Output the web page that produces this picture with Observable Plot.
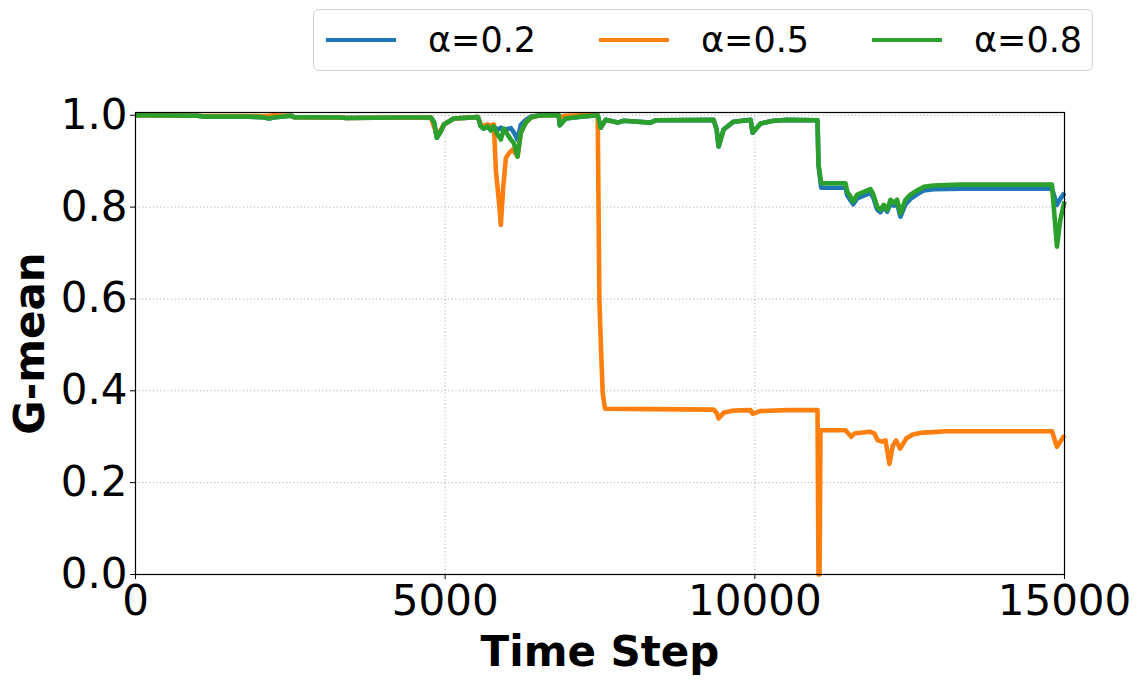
<!DOCTYPE html>
<html>
<head>
<meta charset="utf-8">
<script src="https://cdn.jsdelivr.net/npm/d3@7"></script>
<script src="https://cdn.jsdelivr.net/npm/@observablehq/plot@0.6"></script>
<style>
  html, body { margin: 0; padding: 0; background: white; }
  #wrap { width: 1139px; height: 683px; position: relative; font-family: "DejaVu Sans", sans-serif; }
  #legend-row { height: 80px; position: relative; }
  #legend { position: absolute; left: 313px; top: 9px; width: 778px; height: 60px; border: 1.5px solid #d0d0d0; border-radius: 6px; background: white; }
  .entry { position: absolute; top: 0; height: 60px; display: flex; align-items: center; }
  .swatch { width: 70px; height: 4px; margin-right: 32px; }
  .lab { font-size: 35px; color: black; line-height: 1; }
</style>
</head>
<body>
<div id="wrap">
  <div id="legend-row"><div id="legend"></div></div>
  <div id="chart"></div>
</div>
<script>
// ---------- data ----------
const seriesNames = ["α=0.2", "α=0.5", "α=0.8"];
const seriesColors = ["#1f77b4", "#ff7f0e", "#2ca02c"];
const xTicks = [0, 5000, 10000, 15000];
const yTicks = [0.0, 0.2, 0.4, 0.6, 0.8, 1.0];

const steps_a02 = [0,1000,1110,1820,2030,2160,2220,2510,2560,3320,3400,4290,4770,4820,4866,4930,4980,5140,5528,5544,5576,5624,5684,5737,5786,5846,5899,5947,6007,6060,6108,6168,6221,6302,6383,6491,6652,6834,6850,6947,7189,7463,7511,7592,7786,7883,8318,8399,9335,9383,9415,9496,9657,9932,9964,10093,10302,10528,11012,11028,11072,11464,11491,11544,11588,11652,11867,11915,11975,12028,12082,12137,12190,12243,12298,12351,12432,12512,12620,12727,12888,13319,14798,14878,14932,15000];
const gmean_a02 = [1.0,0.999,0.997,0.997,0.996,0.993,0.995,0.999,0.996,0.995,0.994,0.995,0.995,0.985,0.951,0.965,0.98,0.993,0.996,0.99,0.976,0.971,0.976,0.967,0.976,0.968,0.973,0.965,0.970,0.972,0.963,0.947,0.979,0.990,0.997,0.999,1.0,1.0,0.978,0.993,0.997,1.0,0.973,0.990,0.984,0.988,0.984,0.989,0.990,0.969,0.932,0.969,0.986,0.990,0.962,0.982,0.988,0.990,0.989,0.892,0.842,0.842,0.826,0.815,0.806,0.819,0.831,0.820,0.795,0.789,0.800,0.790,0.808,0.803,0.808,0.779,0.806,0.818,0.828,0.836,0.839,0.840,0.840,0.805,0.818,0.831];

const steps_a05 = [0,1000,1110,1820,2030,2160,2220,2510,2560,3320,3400,4290,4770,4820,4866,4930,4980,5140,5528,5544,5576,5624,5684,5737,5786,5820,5873,5899,5936,5980,6033,6087,6113,6168,6221,6302,6383,6491,6652,6834,6850,6947,7189,7463,7490,7517,7544,7581,8300,9335,9383,9415,9496,9657,9932,9964,10093,10528,11012,11028,11045,11060,11464,11503,11556,11609,11851,11931,11985,12066,12110,12174,12228,12282,12347,12444,12550,12711,12872,13087,14798,14878,15000];
const gmean_a05 = [1.0,0.999,0.998,0.998,0.998,0.999,1.0,0.999,0.996,0.995,0.994,0.995,0.995,0.975,0.96,0.968,0.98,0.993,0.996,0.99,0.979,0.977,0.98,0.978,0.98,0.878,0.805,0.761,0.841,0.907,0.918,0.925,0.921,0.910,0.962,0.984,0.995,0.999,1.0,1.0,0.995,0.999,1.0,1.0,0.598,0.489,0.395,0.361,0.360,0.359,0.352,0.340,0.352,0.357,0.358,0.350,0.356,0.358,0.358,0.0,0.0,0.314,0.314,0.308,0.300,0.307,0.311,0.307,0.292,0.289,0.292,0.241,0.281,0.292,0.274,0.296,0.305,0.309,0.310,0.312,0.312,0.278,0.303];

const steps_a08 = [0,1000,1110,1820,2030,2160,2220,2510,2560,3320,3400,4290,4770,4820,4866,4930,4980,5140,5528,5544,5576,5624,5684,5737,5786,5846,5899,5947,6007,6060,6108,6168,6221,6302,6383,6491,6652,6834,6850,6947,7189,7463,7511,7592,7786,7883,8318,8399,9335,9383,9415,9496,9657,9932,9964,10093,10302,10528,11012,11028,11072,11464,11491,11544,11588,11652,11867,11915,11975,12028,12082,12137,12190,12243,12298,12351,12432,12512,12620,12727,12888,13319,14798,14878,14932,15000];
const gmean_a08 = [1.0,0.999,0.997,0.997,0.996,0.993,0.995,0.999,0.996,0.995,0.994,0.995,0.995,0.985,0.951,0.965,0.98,0.993,0.996,0.99,0.976,0.971,0.976,0.967,0.976,0.958,0.947,0.971,0.958,0.947,0.940,0.910,0.962,0.984,0.995,0.999,1.0,1.0,0.978,0.993,0.997,1.0,0.973,0.990,0.984,0.988,0.984,0.989,0.990,0.969,0.932,0.969,0.986,0.990,0.962,0.982,0.988,0.990,0.989,0.892,0.852,0.852,0.834,0.823,0.812,0.827,0.839,0.827,0.801,0.794,0.805,0.794,0.816,0.809,0.816,0.787,0.816,0.827,0.836,0.844,0.847,0.849,0.849,0.714,0.772,0.812];

// ---------- build table ----------
const allSteps = [steps_a02, steps_a05, steps_a08];
const allVals = [gmean_a02, gmean_a05, gmean_a08];
const rows = [];
seriesNames.forEach((name, i) => {
  allSteps[i].forEach((t, j) => rows.push({series: name, t, v: allVals[i][j]}));
});

// ---------- legend ----------
const legend = document.getElementById("legend");
seriesNames.forEach((name, i) => {
  const e = document.createElement("div");
  e.className = "entry";
  e.style.left = (12 + i * 273) + "px";
  const sw = document.createElement("div");
  sw.className = "swatch";
  sw.style.background = seriesColors[i];
  const lb = document.createElement("span");
  lb.className = "lab";
  lb.textContent = name;
  e.appendChild(sw); e.appendChild(lb);
  legend.appendChild(e);
});

// ---------- chart ----------
const FS = 42;
const chart = Plot.plot({
  width: 1139,
  height: 603,
  marginTop: 32,
  marginBottom: 109,
  marginLeft: 135,
  marginRight: 75,
  style: {fontFamily: "DejaVu Sans, sans-serif", fontSize: FS + "px", background: "white", color: "black", overflow: "visible"},
  x: {domain: [0, 15000]},
  y: {domain: [0, 1.006]},
  color: {domain: seriesNames, range: seriesColors},
  marks: [
    Plot.gridX(xTicks, {stroke: "#b0b0b0", strokeOpacity: 1, strokeWidth: 1, strokeDasharray: "1.2,2.4"}),
    Plot.gridY(yTicks, {stroke: "#b0b0b0", strokeOpacity: 1, strokeWidth: 1, strokeDasharray: "1.2,2.4"}),
    Plot.line(rows, {x: "t", y: "v", z: "series", stroke: "series", strokeWidth: 4.6, strokeLinejoin: "round", strokeLinecap: "butt"}),
    Plot.frame({stroke: "black", strokeWidth: 1.2}),
    Plot.axisX(xTicks, {tickSize: 5, tickPadding: 6, tickFormat: d => String(d), label: null, fontSize: FS, stroke: "black"}),
    Plot.axisY(yTicks, {tickSize: 5, tickPadding: 3, tickFormat: d => d.toFixed(1), label: null, fontSize: FS, stroke: "black"}),
    Plot.text(["Time Step"], {frameAnchor: "bottom", dy: 78, fontWeight: "bold", fontSize: FS, lineAnchor: "middle", textAnchor: "middle"}),
    Plot.text(["G-mean"], {frameAnchor: "left", dx: -105, rotate: -90, fontWeight: "bold", fontSize: FS, lineAnchor: "middle", textAnchor: "middle"})
  ]
});
document.getElementById("chart").appendChild(chart);
</script>
</body>
</html>
